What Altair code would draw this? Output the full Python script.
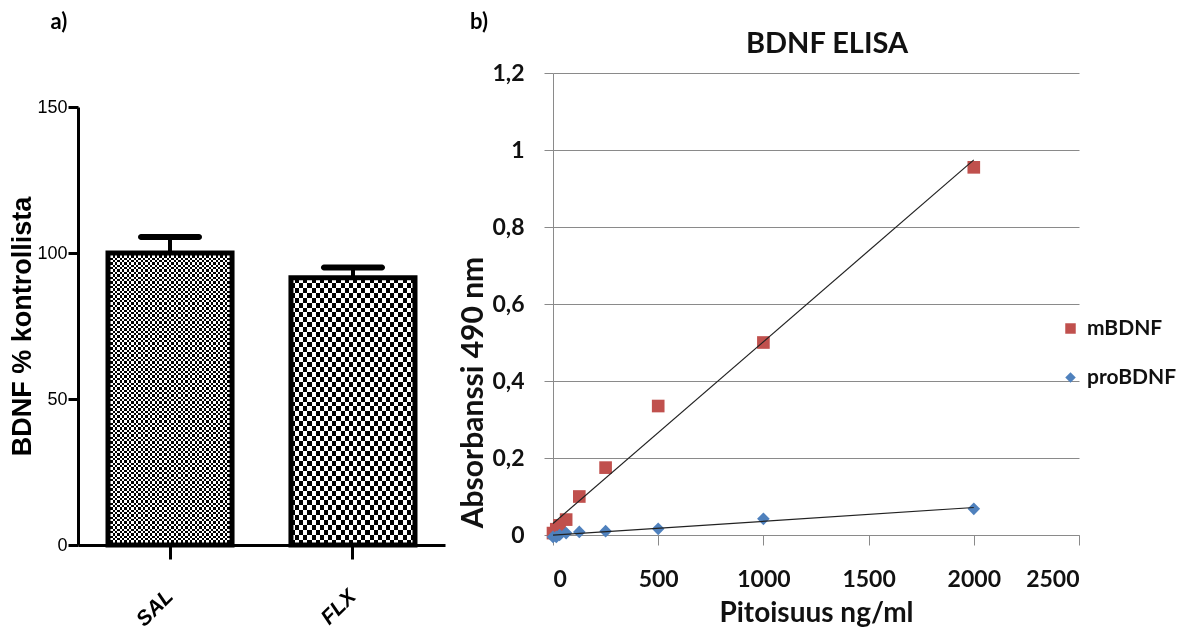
import altair as alt
import pandas as pd

# ---------------- data ----------------
groups = ["SAL", "FLX"]
bdnf_pct = [100, 91.5]
bdnf_err = [5.5, 3.5]

conc = [0, 15.6, 31.25, 62.5, 125, 250, 500, 1000, 2000]
m_abs = [0.005, 0.015, 0.025, 0.04, 0.1, 0.175, 0.335, 0.5, 0.955]
pro_abs = [-0.005, -0.005, 0.0, 0.005, 0.008, 0.01, 0.016, 0.042, 0.068]

series = ["mBDNF", "proBDNF"]
series_colors = ["#C0504D", "#4F81BD"]
series_shapes = ["square", "diamond"]

x_ticks_b = [0, 500, 1000, 1500, 2000, 2500]
y_ticks_b = [0, 0.2, 0.4, 0.6, 0.8, 1.0, 1.2]
y_ticks_a = [0, 50, 100, 150]

# ---------------- styles ----------------
ARIAL = "Liberation Sans Narrow, Arial Narrow, Liberation Sans, Arial"
ARIALB = "Liberation Sans, Arial"
CAL = "Lato, Open Sans, sans-serif"


def stripes(n, vertical, c1, c2):
    stops = []
    for i in range(n):
        c = c1 if i % 2 == 0 else c2
        stops.append(alt.GradientStop(color=c, offset=i / n))
        stops.append(alt.GradientStop(color=c, offset=(i + 1) / n))
    if vertical:
        return alt.LinearGradient(gradient="linear", stops=stops, x1=0, x2=1, y1=0, y2=0)
    return alt.LinearGradient(gradient="linear", stops=stops, x1=0, x2=0, y1=0, y2=1)


# ---------------- panel a ----------------
df_a = pd.DataFrame({"group": groups, "pct": bdnf_pct, "err": bdnf_err})
df_a["upper"] = df_a["pct"] + df_a["err"]

axis_x_a = alt.Axis(
    title=None, labelAngle=-45, labelAlign="right", labelBaseline="middle",
    labelFont=ARIALB, labelFontSize=21, labelFontWeight="bold", labelFontStyle="italic",
    labelColor="black", labelPadding=34, tickSize=14, tickWidth=3, tickColor="black",
    domainColor="black", domainWidth=3,
)
axis_y_a = alt.Axis(
    title="BDNF % kontrollista", values=y_ticks_a, titleFont=ARIALB, titleFontSize=27,
    titleFontWeight="bold", titleColor="black", titlePadding=0,
    labelFont=ARIAL, labelFontSize=18, labelColor="black", labelPadding=1,
    tickSize=10, tickWidth=3, tickColor="black", domainColor="black", domainWidth=3,
    grid=False,
)
x_a = alt.X("group:N", sort=groups,
            scale=alt.Scale(paddingInner=0.322, paddingOuter=0.164), axis=axis_x_a)
sc_y_a = alt.Scale(domain=[0, 150], range=[472, 34], nice=False)
y_a = alt.Y("pct:Q", scale=sc_y_a, axis=axis_y_a)

base_a = alt.Chart(df_a)
sal = base_a.transform_filter("datum.group == 'SAL'")
flx = base_a.transform_filter("datum.group == 'FLX'")

sal_v = sal.mark_bar(fill=stripes(53, True, "black", "white")).encode(x=x_a, y=y_a)
sal_h = sal.mark_bar(fill=stripes(124, False, "white", "black"), blend="difference").encode(x=x_a, y=y_a)
flx_v = flx.mark_bar(fill=stripes(30, True, "black", "white")).encode(x=x_a, y=y_a)
flx_h = flx.mark_bar(fill=stripes(54, False, "white", "black"), blend="difference").encode(x=x_a, y=y_a)
outline = base_a.mark_bar(fillOpacity=0, stroke="black", strokeWidth=5).encode(x=x_a, y=y_a)
err_rule = base_a.mark_rule(color="black", strokeWidth=4).encode(x=x_a, y=y_a, y2="upper:Q")
err_cap = base_a.mark_tick(color="black", size=64, thickness=6, cornerRadius=3, opacity=1).encode(
    x=x_a, y=alt.Y("upper:Q", scale=sc_y_a, axis=axis_y_a))
lab_a = alt.Chart(pd.DataFrame({"t": ["a)"]})).mark_text(
    font=CAL, fontSize=22, fontWeight="bold", color="black").encode(
    text="t:N", x=alt.value(-19), y=alt.value(-51))

panel_a = alt.layer(sal_v, sal_h, flx_v, flx_h, outline, err_rule, err_cap, lab_a).properties(
    width=367, height=472)

# ---------------- panel b ----------------
df_b = pd.DataFrame({
    "conc": conc + conc,
    "abs": m_abs + pro_abs,
    "series": [series[0]] * len(conc) + [series[1]] * len(conc),
})

GRAY = "#8a8a8a"
x_b = alt.X("conc:Q", scale=alt.Scale(domain=[0, 2500], nice=False), axis=alt.Axis(
    title="Pitoisuus ng/ml", values=x_ticks_b, format="d", grid=False, domainColor=GRAY,
    tickColor=GRAY, tickSize=10, labelFont=CAL, labelFontSize=23, labelFontWeight="bold",
    labelColor="#111", labelPadding=23, titleFont=CAL, titleFontSize=28, titleFontWeight="bold",
    titleColor="#111", titlePadding=8))
y_b = alt.Y("abs:Q", scale=alt.Scale(domain=[0, 1.2], nice=False), axis=alt.Axis(
    title="Absorbanssi 490 nm", values=y_ticks_b, format=".1~f",
    labelExpr="replace(datum.label, '.', ',')", grid=True, gridColor=GRAY, domainColor=GRAY,
    tickColor=GRAY, tickSize=9, labelFont=CAL, labelFontSize=23, labelFontWeight="bold",
    labelColor="#111", labelPadding=20, titleFont=CAL, titleFontSize=30, titleFontWeight="bold",
    titleColor="#111", titlePadding=3, titleY=319))

leg = alt.Legend(title=None, orient="none", legendX=982, legendY=245, symbolSize=110,
                 labelFont=CAL, labelFontSize=21, labelFontWeight="bold", labelColor="#111",
                 rowPadding=27, labelOffset=6, padding=0)

points = alt.Chart(df_b).mark_point(filled=True, size=160, opacity=1).encode(
    x=x_b, y=y_b,
    color=alt.Color("series:N", scale=alt.Scale(domain=series, range=series_colors), legend=leg),
    shape=alt.Shape("series:N", scale=alt.Scale(domain=series, range=series_shapes), legend=leg),
)
lines = alt.Chart(df_b).transform_regression(
    "conc", "abs", groupby=["series"], extent=[0, 2000]
).mark_line(color="#222", strokeWidth=1.2).encode(x=x_b, y=y_b, detail="series:N")

lab_b = alt.Chart(pd.DataFrame({"t": ["b)"]})).mark_text(
    font=CAL, fontSize=22, fontWeight="bold", color="black").encode(
    text="t:N", x=alt.value(-74), y=alt.value(-51))
title_b = alt.Chart(pd.DataFrame({"t": ["BDNF ELISA"]})).mark_text(
    font=CAL, fontSize=29, fontWeight="bold", color="#111").encode(
    text="t:N", x=alt.value(274), y=alt.value(-29))

panel_b = alt.layer(points, lines, lab_b, title_b).properties(width=526, height=462)

chart = alt.hconcat(panel_a, panel_b, spacing=13).configure_view(stroke=None).properties(
    padding={"left": 0, "top": 3, "right": 5, "bottom": 0})

chart.save("out.html", embed_options={"renderer": "svg", "actions": False})
